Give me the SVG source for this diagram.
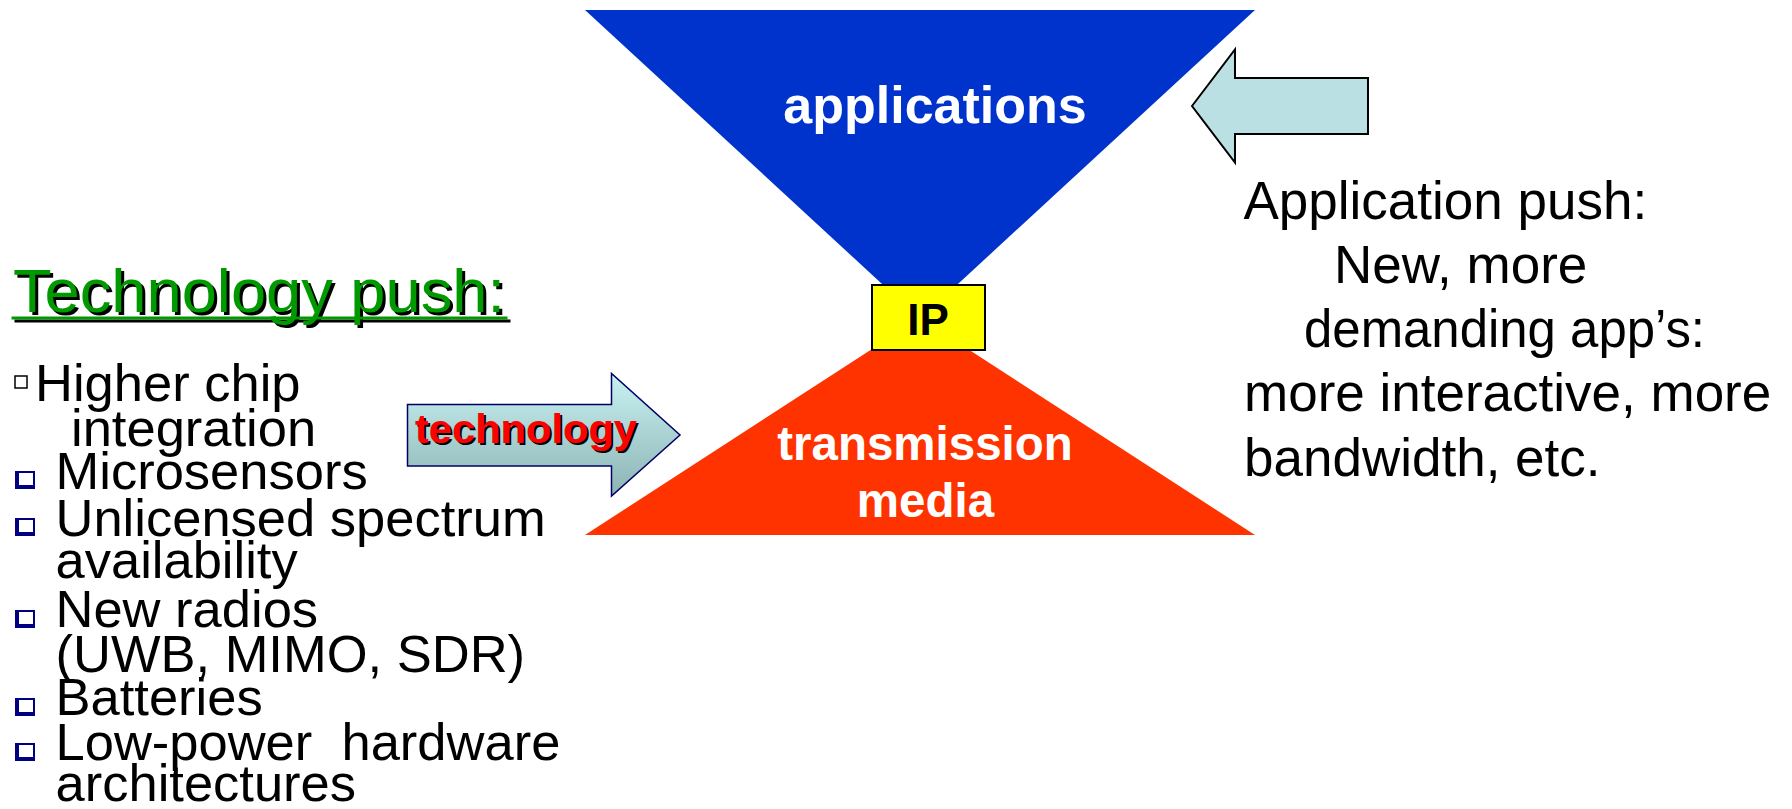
<svg xmlns="http://www.w3.org/2000/svg" width="1792" height="809" viewBox="0 0 1792 809">
  <defs>
    <linearGradient id="techFill" x1="0" y1="0" x2="0" y2="1">
      <stop offset="0" stop-color="#C8F2F2"/>
      <stop offset="1" stop-color="#8DB3B3"/>
    </linearGradient>
    <style>
      text { font-family: "Liberation Sans", Arial, sans-serif; }
      .bold { font-weight: bold; }
      .white { fill: #FFFFFF; }
      .body { font-size: 52.5px; fill: #000000; }
      .right { font-size: 53px; fill: #000000; }
      .bulletOuter { fill: #000080; }
      .bulletInner { fill: #FFFFFF; }
    </style>
  </defs>

  <rect x="0" y="0" width="1792" height="809" fill="#FFFFFF"/>

  <!-- hourglass: applications above, transmission media below -->
  <g id="applications">
    <polygon points="585,10 1255,10 920,319" fill="#0033CC"/>
    <text x="935" y="123" class="bold white" font-size="52" text-anchor="middle">applications</text>
  </g>

  <g id="transmission-media">
    <polygon points="585,535 1255,535 920,318" fill="#FF3300"/>
    <text x="925" y="460" class="bold white" font-size="47.5" text-anchor="middle">transmission</text>
    <text x="925.5" y="517" class="bold white" font-size="47.5" text-anchor="middle">media</text>
  </g>

  <g id="ip">
    <rect x="872" y="285" width="113" height="65" fill="#FFFF00" stroke="#000000" stroke-width="2"/>
    <text x="928" y="335" class="bold" font-size="44" fill="#000000" text-anchor="middle">IP</text>
  </g>

  <g id="connectors">
    <!-- application push arrow -->
    <polygon points="1192,106 1235,49.5 1235,78 1368,78 1368,134 1235,134 1235,162.5" fill="#BBE0E3" stroke="#000000" stroke-width="2"/>
    <!-- technology push arrow -->
    <polygon points="407.5,404.5 611.5,404.5 611.5,373.5 680,435 611.5,496 611.5,466 407.5,466" fill="url(#techFill)" stroke="#000066" stroke-width="1.5"/>
    <text x="417" y="445" class="bold" font-size="41" fill="#000000" textLength="222" lengthAdjust="spacingAndGlyphs">technology</text>
    <text x="415" y="443" class="bold" font-size="41" fill="#FF0000" textLength="222" lengthAdjust="spacingAndGlyphs">technology</text>
  </g>

  <!-- left column: technology push -->
  <g id="technology-push">
    <text x="16" y="315" font-size="62" fill="#000000" textLength="492" lengthAdjust="spacingAndGlyphs">Technology push:</text>
    <rect x="14.5" y="319.5" width="496" height="3" fill="#000000"/>
    <text x="13" y="312" font-size="62" fill="#009900" textLength="492" lengthAdjust="spacingAndGlyphs">Technology push:</text>
    <rect x="11.5" y="316.5" width="496" height="3" fill="#009900"/>

    <!-- first bullet: plain hollow square -->
    <rect x="15" y="376" width="12" height="12" fill="#FFFFFF" stroke="#000000" stroke-width="1.5"/>
    <text x="35" y="401" class="body">Higher chip</text>
    <text x="71" y="446" class="body">integration</text>

    <g id="bullets">
      <rect class="bulletOuter" x="15" y="471" width="20" height="18"/>
      <rect class="bulletInner" x="19" y="473" width="14" height="12"/>
      <rect class="bulletOuter" x="15" y="518" width="20" height="18"/>
      <rect class="bulletInner" x="19" y="520" width="14" height="12"/>
      <rect class="bulletOuter" x="15" y="610" width="20" height="18"/>
      <rect class="bulletInner" x="19" y="612" width="14" height="12"/>
      <rect class="bulletOuter" x="15" y="698" width="20" height="18"/>
      <rect class="bulletInner" x="19" y="700" width="14" height="12"/>
      <rect class="bulletOuter" x="15" y="743" width="20" height="18"/>
      <rect class="bulletInner" x="19" y="745" width="14" height="12"/>
    </g>

    <text x="55.5" y="489" class="body">Microsensors</text>
    <text x="55.5" y="536" class="body">Unlicensed spectrum</text>
    <text x="55.5" y="578" class="body">availability</text>
    <text x="55.5" y="627" class="body">New radios</text>
    <text x="55.5" y="672" class="body">(UWB, MIMO, SDR)</text>
    <text x="55.5" y="715" class="body">Batteries</text>
    <text x="55.5" y="760" class="body" xml:space="preserve">Low-power  hardware</text>
    <text x="55.5" y="801" class="body">architectures</text>
  </g>

  <!-- right column: application push -->
  <g id="application-push">
    <text x="1243.5" y="219" class="right">Application push:</text>
    <text x="1334" y="283" class="right">New, more</text>
    <text x="1304" y="347" class="right" textLength="401" lengthAdjust="spacingAndGlyphs">demanding app’s:</text>
    <text x="1244" y="411" class="right">more interactive, more</text>
    <text x="1244" y="476" class="right">bandwidth, etc.</text>
  </g>
</svg>
